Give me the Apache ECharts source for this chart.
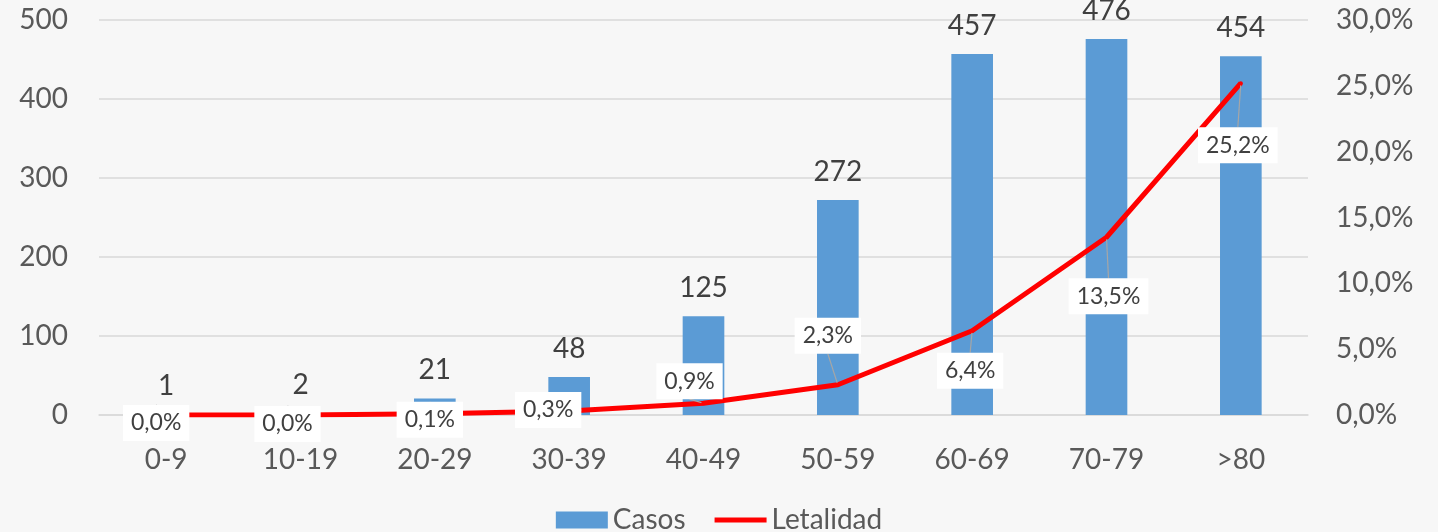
<!DOCTYPE html>
<html>
<head>
<meta charset="utf-8">
<script src="https://cdn.jsdelivr.net/npm/echarts@6/dist/echarts.min.js"></script>
<style>
html,body{margin:0;padding:0;background:#f7f7f7;}
#c{width:1438px;height:532px;}
</style>
</head>
<body>
<div id="c"></div>
<script>
const categories = ['0-9','10-19','20-29','30-39','40-49','50-59','60-69','70-79','>80'];
const casos = [1, 2, 21, 48, 125, 272, 457, 476, 454];
const letalidad = [0.0, 0.0, 0.1, 0.3, 0.9, 2.3, 6.4, 13.5, 25.2];
const leftTicks = {min: 0, max: 500, interval: 100};
const rightTicks = {min: 0, max: 30, interval: 5};

const FONT = 'Lato';
const fmtPct = v => v.toFixed(1).replace('.', ',') + '%';

const chart = echarts.init(document.getElementById('c'));
chart.setOption({
  backgroundColor: '#f7f7f7',
  textStyle: {fontFamily: FONT},
  grid: {left: 99, right: 130, top: 20, bottom: 117},
  legend: {
    bottom: -7, left: 'center',
    itemWidth: 52, itemHeight: 17, itemGap: 29,
    textStyle: {fontFamily: FONT, fontSize: 28, color: '#595959'},
    data: [
      {name: 'Casos', icon: 'rect'},
      {name: 'Letalidad', icon: 'path://M0,0 L10,0 L10,1 L0,1 Z', itemStyle: {color: '#ff0000'}}
    ]
  },
  xAxis: {
    type: 'category',
    data: categories,
    axisLine: {lineStyle: {color: '#d9d9d9', width: 1.5}},
    axisTick: {show: false},
    axisLabel: {fontFamily: FONT, fontSize: 28, color: '#595959', margin: 31}
  },
  yAxis: [
    {
      type: 'value', min: leftTicks.min, max: leftTicks.max, interval: leftTicks.interval,
      axisLine: {show: false}, axisTick: {show: false},
      splitLine: {lineStyle: {color: '#d9d9d9', width: 1.5}},
      axisLabel: {fontFamily: FONT, fontSize: 28, color: '#595959', margin: 31}
    },
    {
      type: 'value', min: rightTicks.min, max: rightTicks.max, interval: rightTicks.interval,
      axisLine: {show: false}, axisTick: {show: false},
      splitLine: {show: false},
      axisLabel: {fontFamily: FONT, fontSize: 28, color: '#595959', margin: 28, formatter: fmtPct}
    }
  ],
  series: [
    {
      name: 'Casos', type: 'bar', data: casos, yAxisIndex: 0,
      barWidth: '31%',
      itemStyle: {color: '#5b9bd5'},
      label: {show: true, position: 'top', distance: 14, fontFamily: FONT, fontSize: 28, color: '#404040'}
    },
    {
      name: 'Letalidad', type: 'line', data: letalidad, yAxisIndex: 1,
      symbol: 'circle', symbolSize: 4, showSymbol: true,
      itemStyle: {color: '#ff0000'},
      lineStyle: {color: '#ff0000', width: 5},
      z: 5,
      label: {
        show: true, position: 'inside', formatter: p => fmtPct(p.value),
        fontFamily: FONT, fontSize: 23, color: '#404040',
        backgroundColor: '#ffffff', padding: [7, 8, 6, 8]
      },
      labelLine: {show: true, lineStyle: {color: '#a6a6a6', width: 1.2}},
      labelLayout: function (p) {
        const off = [[-10,8],[-13,9],[-5,6],[-21,-1],[-14,-22],[-10,-49],[-2,40],[2,59],[-3,62]];
        const o = off[p.dataIndex] || [0, 0];
        return {dx: o[0], dy: o[1]};
      }
    }
  ]
});
</script>
</body>
</html>
